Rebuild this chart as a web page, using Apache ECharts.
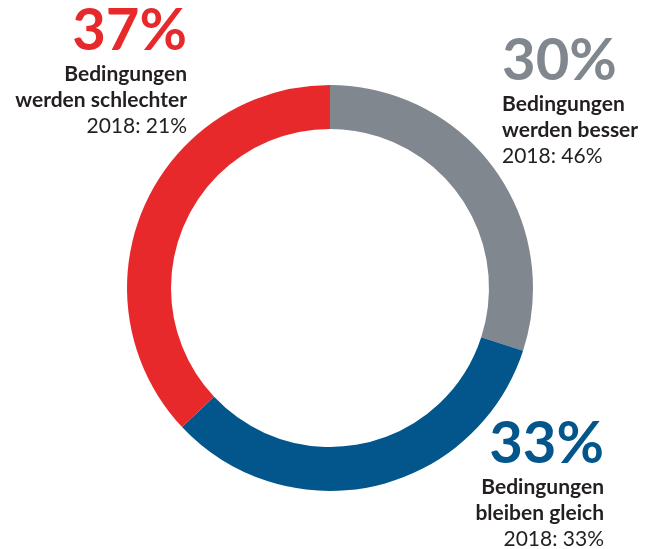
<!DOCTYPE html>
<html>
<head>
<meta charset="utf-8">
<script src="https://cdn.jsdelivr.net/npm/echarts@6/dist/echarts.min.js"></script>
<style>
  html, body { margin: 0; padding: 0; background: #fff; }
  #main { width: 647px; height: 549px; }
</style>
</head>
<body>
<div id="main"></div>
<script>
// Umfrage: Einschätzung der Bedingungen
var categories = ['Bedingungen werden besser', 'Bedingungen bleiben gleich', 'Bedingungen werden schlechter'];
var line1 = ['Bedingungen', 'Bedingungen', 'Bedingungen'];
var line2 = ['werden besser', 'bleiben gleich', 'werden schlechter'];
var values = [30, 33, 37];
var values2018 = [46, 33, 21];
var colors = ['#80878e', '#02568b', '#e8292c'];

var chart = echarts.init(document.getElementById('main'));

// Position der Beschriftungen
var labelPos = [
  { x: 502, y: 32, align: 'left' },
  { x: 604, y: 415, align: 'right' },
  { x: 187, y: 2, align: 'right' }
];

var fontName = 'Lato';
var graphics = [];
for (var i = 0; i < values.length; i++) {
  graphics.push({
    type: 'text',
    x: labelPos[i].x,
    y: labelPos[i].y,
    style: {
      text: '{p|' + values[i] + '%}\n{b|' + line1[i] + '}\n{b|' + line2[i] + '}\n{r|2018: ' + values2018[i] + '%}',
      align: labelPos[i].align,
      verticalAlign: 'top',
      rich: {
        p: { fontFamily: fontName, fontWeight: 'bold', fontSize: 58, lineHeight: 59, fill: colors[i], align: labelPos[i].align },
        b: { fontFamily: fontName, fontWeight: 'bold', fontSize: 21, lineHeight: 26, fill: '#231f20', align: labelPos[i].align },
        r: { fontFamily: fontName, fontSize: 21, lineHeight: 26, fill: '#231f20', align: labelPos[i].align }
      }
    }
  });
}

var data = [];
for (var j = 0; j < values.length; j++) {
  data.push({ name: categories[j], value: values[j], itemStyle: { color: colors[j] } });
}

var option = {
  animation: false,
  backgroundColor: '#fff',
  series: [{
    type: 'pie',
    center: [330, 288],
    radius: [159, 203],
    startAngle: 90,
    clockwise: true,
    label: { show: false },
    labelLine: { show: false },
    itemStyle: { borderWidth: 0 },
    emphasis: { disabled: true },
    data: data
  }],
  graphic: graphics
};
chart.setOption(option);
</script>
</body>
</html>
